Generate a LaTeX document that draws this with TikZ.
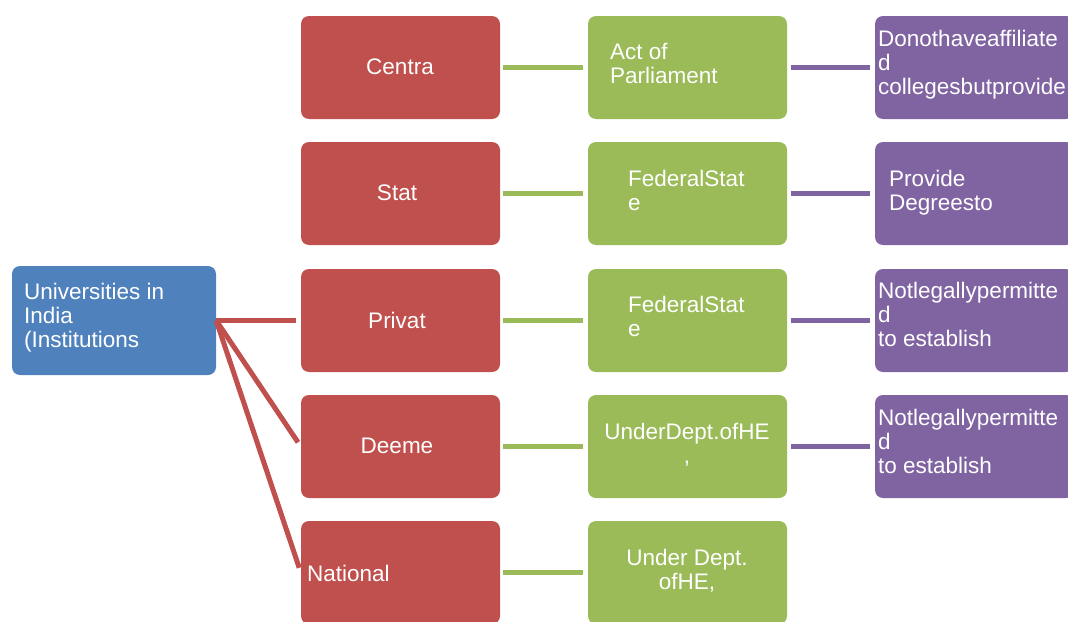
\documentclass[tikz,border=0pt]{standalone}
\usepackage{fontspec}
\setmainfont{Liberation Sans}
\usepackage{xcolor}
\definecolor{ColB}{RGB}{79,129,189}
\definecolor{ColR}{RGB}{192,80,77}
\definecolor{ColG}{RGB}{155,187,89}
\definecolor{ColP}{RGB}{128,100,162}
\usepackage{tikz}
\tikzstyle{Box}=[rectangle,rounded corners=8pt,minimum width=199pt,
minimum height=103pt,inner sep=0pt]
\tikzstyle{RootBox}=[Box,fill=ColB,minimum width=204pt,minimum height=109pt]
\tikzstyle{RedBox}=[Box,fill=ColR]
\tikzstyle{GreenBox}=[Box,fill=ColG]
\tikzstyle{PurpleBox}=[Box,fill=ColP]
\tikzstyle{Txt}=[text=white,inner sep=0pt,font=\fontsize{22.5}{24}\selectfont]
\tikzstyle{TxtL}=[Txt,align=left,anchor=north west]
\tikzstyle{TxtC}=[Txt,align=center,anchor=north]
\tikzstyle{Edge}=[line width=5pt]
\tikzstyle{EdgeR}=[Edge,draw=ColR,shorten >=5pt]
\tikzstyle{EdgeG}=[Edge,draw=ColG,shorten <=3pt,shorten >=5pt]
\tikzstyle{EdgeP}=[Edge,draw=ColP,shorten <=4pt,shorten >=5pt]

\begin{document}
\begin{tikzpicture}[x=1pt,y=-1pt]
        \useasboundingbox(0,0)rectangle(1068,621);
        \clip(0,0)rectangle(1068,621);
        % boxes
        \node[RootBox](u)at(114,320.5){};
        \node[RedBox](r1)at(400.5,67.5){};
        \node[RedBox](r2)at(400.5,193.5){};
        \node[RedBox](r3)at(400.5,320.5){};
        \node[RedBox](r4)at(400.5,446.5){};
        \node[RedBox](r5)at(400.5,572.5){};
        \node[GreenBox](g1)at(687.5,67.5){};
        \node[GreenBox](g2)at(687.5,193.5){};
        \node[GreenBox](g3)at(687.5,320.5){};
        \node[GreenBox](g4)at(687.5,446.5){};
        \node[GreenBox](g5)at(687.5,572.5){};
        \node[PurpleBox](p1)at(974.5,67.5){};
        \node[PurpleBox](p2)at(974.5,193.5){};
        \node[PurpleBox](p3)at(974.5,320.5){};
        \node[PurpleBox](p4)at(974.5,446.5){};
        % texts
        \node[TxtL](ut)at(24,283){Universities in\\India\\(Institutions};
        \node[Txt](r1t)at(400,67){Centra};
        \node[Txt](r2t)at(397,193){Stat};
        \node[Txt](r3t)at(397,320){Privat};
        \node[Txt](r4t)at(397,446){Deeme};
        \node[Txt,anchor=west](r5t)at(307,573){National};
        \node[TxtL](g1t)at(610,43){Act of\\Parliament};
        \node[TxtL](g2t)at(628,170){FederalStat\\e};
        \node[TxtL](g3t)at(628,296){FederalStat\\e};
        \node[TxtC](g4t)at(687,423){UnderDept.ofHE\\,};
        \node[TxtC](g5t)at(687,549){Under Dept.\\ofHE,};
        \node[TxtL](p1t)at(878,30){Donothaveaffiliate\\d\\collegesbutprovide};
        \node[TxtL](p2t)at(889,170){Provide\\Degreesto};
        \node[TxtL](p3t)at(878,282){Notlegallypermitte\\d\\to establish};
        \node[TxtL](p4t)at(878,409){Notlegallypermitte\\d\\to establish};
        % connectors
        \draw[EdgeR](u.east)--(r3.west);
        \draw[EdgeR](u.east)--(r4.west);
        \draw[EdgeR](u.east)--(r5.west);
        \draw[EdgeG](r1)--(g1);
        \draw[EdgeG](r2.east)--(g2.west);
        \draw[EdgeG](r3.east)--(g3.west);
        \draw[EdgeG](r4.east)--(g4.west);
        \draw[EdgeG](r5.east)--(g5.west);
        \draw[EdgeP](g1.east)--(p1.west);
        \draw[EdgeP](g2.east)--(p2.west);
        \draw[EdgeP](g3.east)--(p3.west);
        \draw[EdgeP](g4.east)--(p4.west);
    \end{tikzpicture}
\end{document}
